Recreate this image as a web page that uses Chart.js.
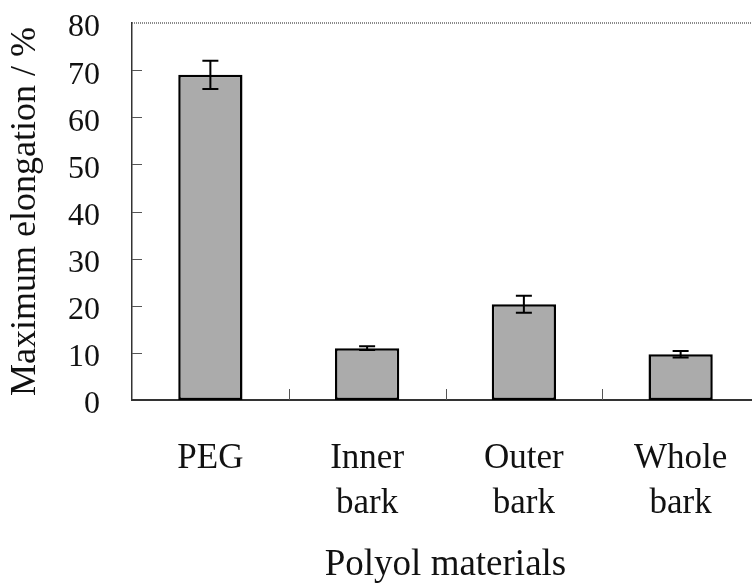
<!DOCTYPE html>
<html>
<head>
<meta charset="utf-8">
<title>Maximum elongation</title>
<script src="https://cdn.jsdelivr.net/npm/chart.js@4.4.1/dist/chart.umd.min.js"></script>
<style>
    html, body { margin: 0; padding: 0; background: #fff; overflow: hidden; }
    #wrap { width: 760px; height: 587px; }
</style>
</head>
<body>
<div id="wrap"><canvas id="elongChart" width="760" height="587"></canvas></div>
<script>
// Maximum elongation of films by polyol material
const materials = [['PEG'], ['Inner', 'bark'], ['Outer', 'bark'], ['Whole', 'bark']];
const elongation = [69, 11, 20.3, 9.7];
const elongationErr = [3.0, 0.4, 1.8, 0.7];
const yTicks = [0, 10, 20, 30, 40, 50, 60, 70, 80];

const serif = "'Liberation Serif', 'Times New Roman', Times, serif";
const ink = '#111';

// short tick marks pointing into the plot, plus the dotted top frame line
const frameMarks = {
    id: 'frameMarks',
    beforeDatasetsDraw(chart) {
        const { ctx, chartArea, scales } = chart;
        ctx.save();

        ctx.strokeStyle = '#555';
        ctx.lineWidth = 1;
        scales.y.ticks.forEach(t => {
            if (t.value === 0 || t.value === 80) return;
            const y = Math.round(scales.y.getPixelForValue(t.value)) + 0.5;
            ctx.beginPath();
            ctx.moveTo(chartArea.left, y);
            ctx.lineTo(chartArea.left + 10, y);
            ctx.stroke();
        });

        for (let i = 0; i < materials.length - 1; i++) {
            const x = Math.round((scales.x.getPixelForValue(i) + scales.x.getPixelForValue(i + 1)) / 2) + 0.5;
            ctx.beginPath();
            ctx.moveTo(x, chartArea.bottom);
            ctx.lineTo(x, chartArea.bottom - 11);
            ctx.stroke();
        }

        ctx.strokeStyle = '#666';
        ctx.lineWidth = 1.5;
        ctx.setLineDash([1, 1]);
        ctx.beginPath();
        ctx.moveTo(chartArea.left, chartArea.top);
        ctx.lineTo(chart.width, chartArea.top);
        ctx.stroke();
        ctx.restore();
    }
};

// +/- error whiskers on top of each bar
const errorBars = {
    id: 'errorBars',
    afterDatasetsDraw(chart) {
        const { ctx, scales } = chart;
        const meta = chart.getDatasetMeta(0);
        ctx.save();
        ctx.strokeStyle = '#000';
        ctx.lineWidth = 2;
        meta.data.forEach((bar, i) => {
            const yHi = scales.y.getPixelForValue(elongation[i] + elongationErr[i]);
            const yLo = scales.y.getPixelForValue(elongation[i] - elongationErr[i]);
            const x = bar.x;
            ctx.beginPath();
            ctx.moveTo(x, yHi);
            ctx.lineTo(x, yLo);
            ctx.moveTo(x - 8, yHi);
            ctx.lineTo(x + 8, yHi);
            ctx.moveTo(x - 8, yLo);
            ctx.lineTo(x + 8, yLo);
            ctx.stroke();
        });
        ctx.restore();
    }
};

const ctx = document.getElementById('elongChart').getContext('2d');

new Chart(ctx, {
    type: 'bar',
    data: {
        labels: materials,
        datasets: [{
            data: elongation,
            backgroundColor: '#ababab',
            borderColor: '#000',
            borderWidth: 2.5,
            borderSkipped: false,
            barPercentage: 0.41,
            categoryPercentage: 1
        }]
    },
    options: {
        responsive: false,
        animation: false,
        devicePixelRatio: 1,
        layout: { padding: { top: 23, left: 0, right: 1, bottom: 0 } },
        plugins: {
            legend: { display: false },
            tooltip: { enabled: false }
        },
        scales: {
            x: {
                grid: { display: false, drawTicks: false },
                border: { display: true, color: '#333', width: 2 },
                ticks: {
                    color: ink,
                    padding: 36,
                    maxRotation: 0,
                    autoSkip: false,
                    font: { family: serif, size: 35, lineHeight: 1.286 }
                },
                title: {
                    display: true,
                    text: 'Polyol materials',
                    color: ink,
                    padding: { top: 0, bottom: 0 },
                    font: { family: serif, size: 37, lineHeight: 1.2 }
                },
                afterFit(scale) {
                    scale.height = 187;
                    scale.paddingLeft = 0;
                    scale.paddingRight = 0;
                }
            },
            y: {
                min: 0,
                max: 80,
                afterBuildTicks(scale) {
                    scale.ticks = yTicks.map(v => ({ value: v }));
                },
                grid: { display: false, drawTicks: false },
                border: { display: true, color: '#333', width: 1.5 },
                ticks: {
                    color: ink,
                    padding: 32,
                    labelOffset: 5,
                    font: { family: serif, size: 32 }
                },
                title: {
                    display: true,
                    text: 'Maximum elongation / %',
                    color: ink,
                    padding: { top: 4, bottom: 0 },
                    font: { family: serif, size: 36, lineHeight: 1.2 }
                },
                afterFit(scale) {
                    scale.width = 132;
                    scale.paddingTop = 0;
                    scale.paddingBottom = 0;
                }
            }
        }
    },
    plugins: [frameMarks, errorBars]
});
</script>
</body>
</html>
